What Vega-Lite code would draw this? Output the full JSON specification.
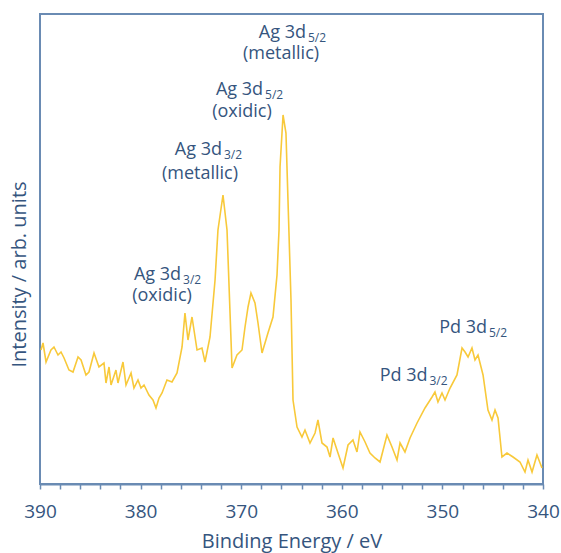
{
  "$schema": "https://vega.github.io/schema/vega-lite/v6.json",
  "width": 503,
  "height": 470,
  "autosize": {"type": "none"},
  "padding": {"left": 40, "top": 14, "right": 18, "bottom": 69},
  "background": "white",
  "config": {
    "view": {"stroke": "#6a8bb3", "strokeWidth": 2},
    "font": "Open Sans",
    "text": {"font": "Open Sans", "color": "#35557e"}
  },
  "datasets": {
    "spectrum": [
      {"be": 389.90, "intensity": 134}, {"be": 389.70, "intensity": 141}, {"be": 389.40, "intensity": 122},
      {"be": 388.91, "intensity": 134}, {"be": 388.61, "intensity": 137}, {"be": 388.21, "intensity": 129},
      {"be": 387.91, "intensity": 132}, {"be": 387.61, "intensity": 126}, {"be": 387.12, "intensity": 114},
      {"be": 386.72, "intensity": 112}, {"be": 386.22, "intensity": 127}, {"be": 385.92, "intensity": 124},
      {"be": 385.43, "intensity": 109}, {"be": 385.13, "intensity": 112}, {"be": 384.63, "intensity": 131},
      {"be": 384.14, "intensity": 117}, {"be": 383.64, "intensity": 121}, {"be": 383.44, "intensity": 101},
      {"be": 383.14, "intensity": 117}, {"be": 382.94, "intensity": 99}, {"be": 382.45, "intensity": 114},
      {"be": 382.25, "intensity": 101}, {"be": 381.75, "intensity": 122}, {"be": 381.45, "intensity": 99},
      {"be": 380.95, "intensity": 111}, {"be": 380.66, "intensity": 96}, {"be": 380.26, "intensity": 104},
      {"be": 379.96, "intensity": 96}, {"be": 379.66, "intensity": 99}, {"be": 379.17, "intensity": 89},
      {"be": 378.77, "intensity": 84}, {"be": 378.47, "intensity": 76}, {"be": 378.17, "intensity": 86},
      {"be": 377.87, "intensity": 91}, {"be": 377.38, "intensity": 104}, {"be": 376.88, "intensity": 102},
      {"be": 376.38, "intensity": 111}, {"be": 375.88, "intensity": 137}, {"be": 375.59, "intensity": 171},
      {"be": 375.29, "intensity": 144}, {"be": 374.89, "intensity": 167}, {"be": 374.39, "intensity": 134},
      {"be": 373.90, "intensity": 136}, {"be": 373.60, "intensity": 122}, {"be": 373.10, "intensity": 147},
      {"be": 372.60, "intensity": 204}, {"be": 372.31, "intensity": 254}, {"be": 371.81, "intensity": 289},
      {"be": 371.41, "intensity": 254}, {"be": 371.11, "intensity": 171}, {"be": 370.91, "intensity": 116},
      {"be": 370.42, "intensity": 129}, {"be": 369.92, "intensity": 134}, {"be": 369.62, "intensity": 157},
      {"be": 369.32, "intensity": 177}, {"be": 369.03, "intensity": 191}, {"be": 368.63, "intensity": 181},
      {"be": 368.33, "intensity": 161}, {"be": 367.93, "intensity": 131}, {"be": 367.34, "intensity": 151},
      {"be": 366.84, "intensity": 167}, {"be": 366.44, "intensity": 209}, {"be": 366.24, "intensity": 254},
      {"be": 366.14, "intensity": 317}, {"be": 365.84, "intensity": 369}, {"be": 365.55, "intensity": 351},
      {"be": 365.35, "intensity": 284}, {"be": 365.05, "intensity": 184}, {"be": 364.85, "intensity": 84},
      {"be": 364.45, "intensity": 57}, {"be": 363.96, "intensity": 47}, {"be": 363.66, "intensity": 54},
      {"be": 363.16, "intensity": 41}, {"be": 362.66, "intensity": 51}, {"be": 362.37, "intensity": 64},
      {"be": 361.97, "intensity": 41}, {"be": 361.47, "intensity": 37}, {"be": 361.17, "intensity": 27},
      {"be": 360.87, "intensity": 46}, {"be": 360.38, "intensity": 31}, {"be": 359.88, "intensity": 16},
      {"be": 359.38, "intensity": 39}, {"be": 358.89, "intensity": 44}, {"be": 358.49, "intensity": 32},
      {"be": 358.19, "intensity": 52}, {"be": 357.69, "intensity": 42}, {"be": 357.20, "intensity": 31},
      {"be": 356.70, "intensity": 26}, {"be": 356.20, "intensity": 22}, {"be": 355.51, "intensity": 49},
      {"be": 355.01, "intensity": 37}, {"be": 354.51, "intensity": 24}, {"be": 354.21, "intensity": 41},
      {"be": 353.72, "intensity": 32}, {"be": 353.22, "intensity": 46}, {"be": 352.52, "intensity": 61},
      {"be": 351.73, "intensity": 76}, {"be": 351.03, "intensity": 87}, {"be": 350.74, "intensity": 92},
      {"be": 350.44, "intensity": 82}, {"be": 350.04, "intensity": 91}, {"be": 349.74, "intensity": 84},
      {"be": 349.24, "intensity": 96}, {"be": 348.55, "intensity": 109}, {"be": 348.05, "intensity": 136},
      {"be": 347.75, "intensity": 132}, {"be": 347.45, "intensity": 127}, {"be": 347.06, "intensity": 136},
      {"be": 346.76, "intensity": 124}, {"be": 346.46, "intensity": 129}, {"be": 345.96, "intensity": 109},
      {"be": 345.47, "intensity": 74}, {"be": 345.07, "intensity": 64}, {"be": 344.77, "intensity": 74},
      {"be": 344.47, "intensity": 66}, {"be": 344.08, "intensity": 27}, {"be": 343.58, "intensity": 31},
      {"be": 342.98, "intensity": 27}, {"be": 342.29, "intensity": 22}, {"be": 341.79, "intensity": 12},
      {"be": 341.49, "intensity": 24}, {"be": 341.09, "intensity": 12}, {"be": 340.60, "intensity": 29},
      {"be": 340.10, "intensity": 16}
    ],
    "labels": [
      {"be": 363.56, "intensity": 446, "main": "Ag 3d", "sub": "5/2"},
      {"be": 367.83, "intensity": 389, "main": "Ag 3d", "sub": "5/2"},
      {"be": 371.91, "intensity": 329, "main": "Ag 3d", "sub": "3/2"},
      {"be": 375.98, "intensity": 204, "main": "Ag 3d", "sub": "3/2"},
      {"be": 345.57, "intensity": 151, "main": "Pd 3d", "sub": "5/2"},
      {"be": 351.48, "intensity": 103, "main": "Pd 3d", "sub": "3/2"}
    ],
    "states": [
      {"be": 366.04, "intensity": 425, "text": "(metallic)"},
      {"be": 369.92, "intensity": 367, "text": "(oxidic)"},
      {"be": 374.10, "intensity": 305, "text": "(metallic)"},
      {"be": 377.87, "intensity": 183, "text": "(oxidic)"}
    ]
  },
  "encoding": {
    "x": {
      "field": "be", "type": "quantitative",
      "scale": {"domain": [340, 390], "reverse": true, "nice": false, "zero": false},
      "axis": {
        "title": "Binding Energy / eV",
        "values": [390, 388, 386, 384, 382, 380, 378, 376, 374, 372, 370, 368, 366, 364, 362, 360, 358, 356, 354, 352, 350, 348, 346, 344, 342, 340],
        "labelExpr": "datum.value % 10 === 0 ? datum.label : ''",
        "labelOverlap": false,
        "labelFlush": false,
        "grid": false,
        "domainColor": "#6a8bb3",
        "domainWidth": 2,
        "tickColor": "#6a8bb3",
        "tickWidth": 1.5,
        "tickSize": 5,
        "labelFont": "Open Sans",
        "labelFontSize": 19,
        "labelColor": "#35557e",
        "labelPadding": 13,
        "titleFont": "Open Sans",
        "titleFontSize": 20,
        "titleFontWeight": "normal",
        "titleColor": "#35557e",
        "titleBaseline": "alphabetic",
        "titleY": 63
      }
    },
    "y": {
      "field": "intensity", "type": "quantitative",
      "scale": {"domain": [0, 470], "nice": false, "zero": false},
      "axis": {
        "title": "Intensity / arb. units",
        "labels": false,
        "ticks": false,
        "domain": false,
        "grid": false,
        "titleFont": "Open Sans",
        "titleFontSize": 20,
        "titleFontWeight": "normal",
        "titleColor": "#35557e",
        "titleAngle": -90,
        "titleAlign": "center",
        "titleBaseline": "alphabetic",
        "titleX": -15,
        "titleY": 260
      }
    }
  },
  "layer": [
    {
      "data": {"name": "spectrum"},
      "mark": {"type": "line", "color": "#f8c93a", "strokeWidth": 1.6, "interpolate": "linear"}
    },
    {
      "data": {"name": "labels"},
      "mark": {"type": "text", "align": "right", "baseline": "alphabetic", "fontSize": 18, "color": "#35557e"},
      "encoding": {"text": {"field": "main"}}
    },
    {
      "data": {"name": "labels"},
      "mark": {"type": "text", "align": "left", "baseline": "alphabetic", "fontSize": 12, "dx": 2, "dy": 4, "color": "#35557e"},
      "encoding": {"text": {"field": "sub"}}
    },
    {
      "data": {"name": "states"},
      "mark": {"type": "text", "align": "center", "baseline": "alphabetic", "fontSize": 18, "color": "#35557e"},
      "encoding": {"text": {"field": "text"}}
    }
  ]
}
